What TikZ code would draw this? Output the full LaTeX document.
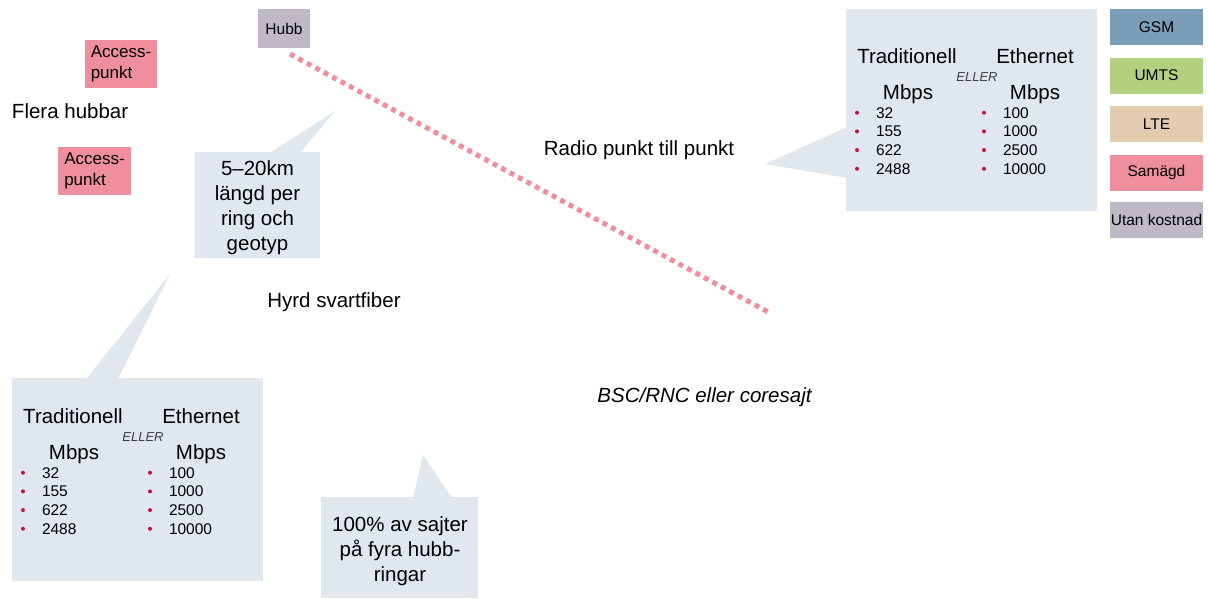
\documentclass[tikz,border=0pt]{standalone}
\usepackage{fontspec}
\setmainfont{Liberation Sans}
\definecolor{callfill}{HTML}{E0E7EE}
\definecolor{pinkc}{HTML}{EF8E9C}
\definecolor{hubbc}{HTML}{BFB8C7}
\definecolor{gsmc}{HTML}{7A9EB8}
\definecolor{umtsc}{HTML}{B2D07F}
\definecolor{ltec}{HTML}{E3CBB0}
\definecolor{bulletc}{HTML}{C0143C}
\newcommand{\fsz}[2]{\fontsize{#1}{#2}\selectfont}
\tikzset{
  x=1pt, y=-1pt,
  callbox/.style={fill=callfill, inner sep=0pt, outer sep=0pt},
  legbox/.style={inner sep=0pt, outer sep=0pt, minimum width=93pt, minimum height=36pt, font=\fsz{15.5}{18}},
  plain/.style={inner sep=0pt, outer sep=0pt},
  big/.style={plain, font=\fsz{20.5}{24}},
  num/.style={plain, anchor=west, font=\fsz{15.5}{18}},
  bul/.style={fill=bulletc, circle, inner sep=0pt, minimum size=4pt},
  ratetable/.pic={
    \node[big] (trad) at (61,47) {Traditionell};
    \node[big] (eth) at (189,47) {Ethernet};
    \node[plain, font=\fsz{13}{15}\itshape, text=black!75] (eller) at (131,68.5) {ELLER};
    \node[big] (mb1) at (62,85) {Mbps};
    \node[big] (mb2) at (189,85) {Mbps};
    \foreach \v [count=\i] in {32,155,622,2488} {
      \node[bul] (bl\i) at (11,{85+18.7*\i}) {};
      \node[num] (nl\i) at (30,{85+18.7*\i}) {\v};
    }
    \foreach \v [count=\i] in {100,1000,2500,10000} {
      \node[bul] (br\i) at (138,{85+18.7*\i}) {};
      \node[num] (nr\i) at (157,{85+18.7*\i}) {\v};
    }
  }
}
\begin{document}
\begin{tikzpicture}
\useasboundingbox (0,0) rectangle (1208,598);

% dotted radio link
\coordinate (ls) at (290,54);
\coordinate (le) at (770,313);
\draw[pinkc, line width=5pt, dash pattern=on 5pt off 4.6pt] (ls) -- (le);

% hub and access points
\node[plain, fill=hubbc, minimum width=52pt, minimum height=39pt, font=\fsz{15.5}{18}] (hubb) at (284,28.5) {Hubb};
\node[plain, fill=pinkc, minimum width=72pt, minimum height=48pt, font=\fsz{17}{20.5}, align=left] (ap1) at (121,64) {Access-\\punkt};
\node[plain, fill=pinkc, minimum width=73pt, minimum height=48pt, font=\fsz{17}{20.5}, align=left] (ap2) at (94.5,171) {Access-\\punkt};
\node[plain, anchor=west, font=\fsz{20.5}{24}] (flera) at (12,111) {Flera hubbar};

% callout 1
\coordinate (c1tip) at (335,111);
\fill[callfill] (270,153) -- (c1tip) -- (300,153) -- cycle;
\node[callbox, minimum width=125pt, minimum height=106pt] (c1) at (257.5,205) {};
\node[plain, font=\fsz{20.5}{25}, align=center] (c1t) at (257.5,207.5) {5--20km\\längd per\\ring och\\geotyp};

% callout 2 (lower left)
\coordinate (c2tip) at (170,274);
\fill[callfill] (86,379) -- (c2tip) -- (118,379) -- cycle;
\node[callbox, minimum width=251pt, minimum height=203pt] (c2) at (137.5,479.5) {};
\pic at (12,369) {ratetable};

% callout 3 (bottom)
\coordinate (c3tip) at (423,455);
\fill[callfill] (413,498) -- (c3tip) -- (452,498) -- cycle;
\node[callbox, minimum width=157pt, minimum height=101pt] (c3) at (399.5,547.5) {};
\node[plain, font=\fsz{20.5}{25}, align=center] (c3t) at (400,551.5) {100\% av sajter\\på fyra hubb-\\ringar};

% callout 4 (upper right)
\coordinate (c4tip) at (765,164);
\fill[callfill] (847,127) -- (c4tip) -- (847,178) -- cycle;
\node[callbox, minimum width=251pt, minimum height=202pt] (c4) at (971.5,110) {};
\pic at (846,9) {ratetable};

% labels
\node[plain, font=\fsz{20.5}{24}] (radio) at (639,150) {Radio punkt till punkt};
\node[plain, font=\fsz{20.5}{24}] (hyrd) at (334,302) {Hyrd svartfiber};
\node[plain, font=\fsz{20.5}{24}\itshape] (bsc) at (704.5,397) {BSC/RNC eller coresajt};

% legend
\node[legbox, fill=gsmc] (gsm) at (1156.5,27) {GSM};
\node[legbox, fill=umtsc] (umts) at (1156.5,75.5) {UMTS};
\node[legbox, fill=ltec] (lte) at (1156.5,124) {LTE};
\node[legbox, fill=pinkc] (sam) at (1156.5,172.5) {Samägd};
\node[legbox, fill=hubbc] (utan) at (1156.5,220) {Utan kostnad};
\end{tikzpicture}
\end{document}
